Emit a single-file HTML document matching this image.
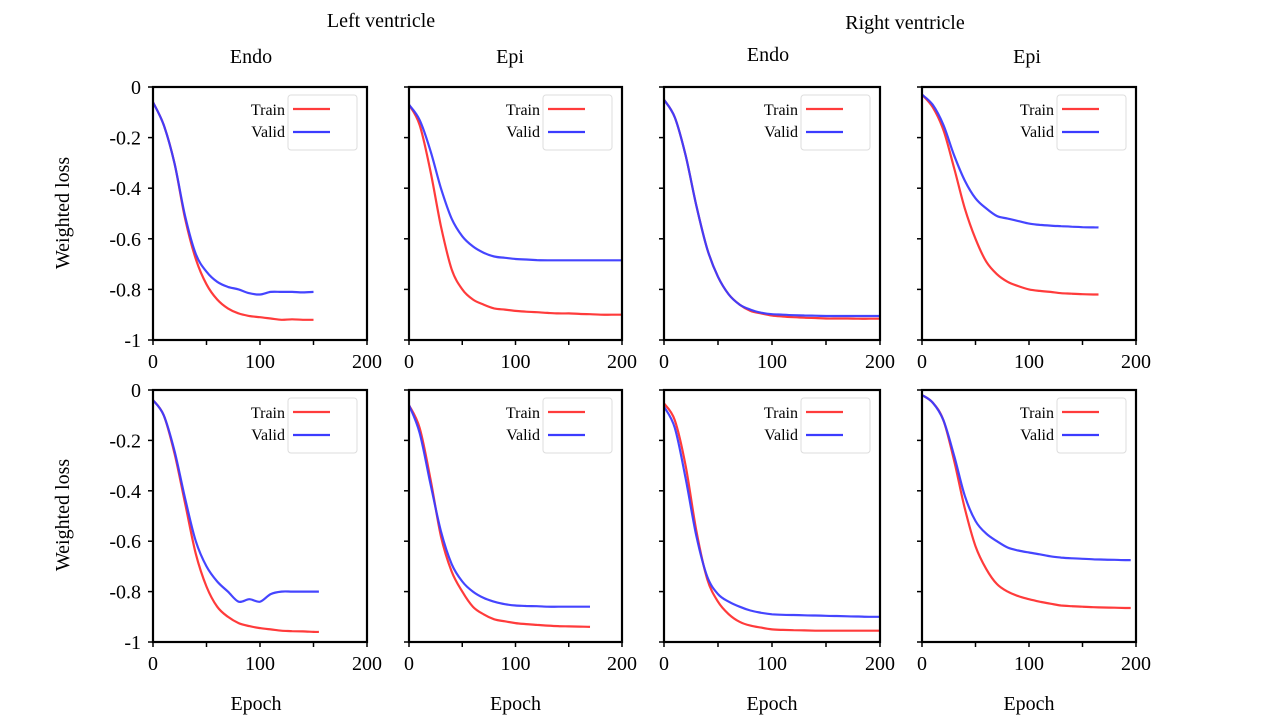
<!DOCTYPE html>
<html><head><meta charset="utf-8"><style>
body{margin:0;background:#fff;}
svg{display:block;font-family:"Liberation Serif",serif;}
</style></head><body>
<svg id="c" width="1280" height="720"></svg>
<script>
const epochs = [0,10,20,30,40,50,60,70,80,90,100,110,120,130,140,150,160,170,180,190,200];
const trainP1 = [-0.06,-0.15,-0.3,-0.52,-0.68,-0.78,-0.84,-0.875,-0.895,-0.905,-0.91,-0.915,-0.92,-0.918,-0.92,-0.92];
const validP1 = [-0.06,-0.15,-0.3,-0.51,-0.66,-0.73,-0.77,-0.79,-0.8,-0.815,-0.82,-0.81,-0.81,-0.81,-0.812,-0.81];
const trainP2 = [-0.07,-0.15,-0.33,-0.55,-0.72,-0.8,-0.84,-0.86,-0.875,-0.88,-0.885,-0.888,-0.89,-0.893,-0.895,-0.895,-0.897,-0.898,-0.9,-0.9,-0.9];
const validP2 = [-0.07,-0.13,-0.25,-0.4,-0.52,-0.59,-0.63,-0.655,-0.67,-0.675,-0.68,-0.682,-0.684,-0.685,-0.685,-0.685,-0.685,-0.685,-0.685,-0.685,-0.685];
const trainP3 = [-0.05,-0.12,-0.27,-0.47,-0.64,-0.75,-0.82,-0.86,-0.885,-0.895,-0.903,-0.907,-0.91,-0.912,-0.913,-0.915,-0.915,-0.915,-0.916,-0.916,-0.916];
const validP3 = [-0.05,-0.12,-0.27,-0.47,-0.64,-0.75,-0.82,-0.86,-0.88,-0.892,-0.898,-0.9,-0.902,-0.903,-0.904,-0.905,-0.905,-0.905,-0.905,-0.905,-0.905];
const trainP4 = [-0.03,-0.08,-0.17,-0.32,-0.48,-0.6,-0.69,-0.74,-0.77,-0.787,-0.8,-0.806,-0.81,-0.815,-0.817,-0.819,-0.82];
const validP4 = [-0.03,-0.07,-0.15,-0.27,-0.37,-0.44,-0.48,-0.51,-0.52,-0.53,-0.54,-0.545,-0.548,-0.55,-0.552,-0.554,-0.555];
const trainP5 = [-0.04,-0.1,-0.25,-0.45,-0.65,-0.78,-0.86,-0.9,-0.925,-0.937,-0.945,-0.95,-0.955,-0.957,-0.958,-0.96];
const validP5 = [-0.04,-0.1,-0.24,-0.43,-0.6,-0.7,-0.76,-0.8,-0.84,-0.83,-0.84,-0.81,-0.8,-0.8,-0.8,-0.8];
const trainP6 = [-0.06,-0.15,-0.35,-0.58,-0.72,-0.8,-0.86,-0.89,-0.91,-0.918,-0.925,-0.929,-0.932,-0.935,-0.937,-0.938,-0.939,-0.94];
const validP6 = [-0.06,-0.17,-0.37,-0.56,-0.69,-0.76,-0.8,-0.825,-0.84,-0.85,-0.855,-0.857,-0.858,-0.86,-0.86,-0.86,-0.86,-0.86];
const trainP7 = [-0.053,-0.12,-0.3,-0.56,-0.75,-0.84,-0.89,-0.92,-0.935,-0.943,-0.95,-0.952,-0.953,-0.954,-0.955,-0.955,-0.955,-0.955,-0.955,-0.955,-0.955];
const validP7 = [-0.066,-0.15,-0.35,-0.58,-0.74,-0.81,-0.84,-0.86,-0.875,-0.884,-0.89,-0.892,-0.893,-0.894,-0.895,-0.896,-0.897,-0.898,-0.899,-0.9,-0.9];
const trainP8 = [-0.02,-0.05,-0.12,-0.28,-0.47,-0.62,-0.71,-0.77,-0.8,-0.818,-0.83,-0.84,-0.848,-0.855,-0.858,-0.86,-0.862,-0.863,-0.864,-0.865];
const validP8 = [-0.02,-0.05,-0.12,-0.26,-0.42,-0.52,-0.57,-0.6,-0.625,-0.637,-0.645,-0.652,-0.66,-0.665,-0.668,-0.67,-0.672,-0.673,-0.674,-0.675];
const endEpochs = [150,200,200,165,155,170,200,195];
const yTicks = [0,-0.2,-0.4,-0.6,-0.8,-1];
const yTickLabels = ["0","-0.2","-0.4","-0.6","-0.8","-1"];
const xTicks = [0,50,100,150,200];
const xTickLabels = {0:"0",100:"100",200:"200"};

const trains=[trainP1,trainP2,trainP3,trainP4,trainP5,trainP6,trainP7,trainP8];
const valids=[validP1,validP2,validP3,validP4,validP5,validP6,validP7,validP8];
const colX=[[153,367],[409,622],[664,880],[922,1136]];
const rowY=[[87,340],[390,642]];
const svg=document.getElementById('c');
const NS='http://www.w3.org/2000/svg';
function mk(tag,attrs,parent){const e=document.createElementNS(NS,tag);for(const k in attrs)e.setAttribute(k,attrs[k]);(parent||svg).appendChild(e);return e;}
function txt(s,x,y,size,anchor,parent){const t=mk('text',{x:x,y:y,'font-size':size,'text-anchor':anchor||'middle',fill:'#000'},parent);t.textContent=s;return t;}

let t;
t=txt('Left ventricle',381,27,20);
t=txt('Right ventricle',905,29,20);
const colTitles=[['Endo',251,63],['Epi',510,63],['Endo',768,61],['Epi',1027,63]];
colTitles.forEach((c,i)=>{const e=txt(c[0],c[1],c[2],20);});

function smoothPath(pts){
  let d='M'+pts[0][0].toFixed(1)+','+pts[0][1].toFixed(1);
  for(let i=0;i<pts.length-1;i++){
    const p0=pts[Math.max(0,i-1)],p1=pts[i],p2=pts[i+1],p3=pts[Math.min(pts.length-1,i+2)];
    const c1=[p1[0]+(p2[0]-p0[0])/6,p1[1]+(p2[1]-p0[1])/6];
    const c2=[p2[0]-(p3[0]-p1[0])/6,p2[1]-(p3[1]-p1[1])/6];
    d+='C'+c1[0].toFixed(1)+','+c1[1].toFixed(1)+' '+c2[0].toFixed(1)+','+c2[1].toFixed(1)+' '+p2[0].toFixed(1)+','+p2[1].toFixed(1);
  }
  return d;
}

for(let p=0;p<8;p++){
  const r=Math.floor(p/4), c=p%4;
  const [x0,x1]=colX[c],[y0,y1]=rowY[r];
  const g=mk('g',{});
  
  
  const sx=v=>x0+(v/200)*(x1-x0);
  const sy=v=>y0+(-v)*(y1-y0);
  yTicks.forEach((v,i)=>{
    mk('line',{x1:x0-5,x2:x0,y1:sy(v),y2:sy(v),stroke:'#000','stroke-width':1.5},g);
    if(c===0){const e=txt(yTickLabels[i],x0-12,sy(v)+7,20,'end',g);}
  });
  xTicks.forEach(v=>{
    mk('line',{x1:sx(v),x2:sx(v),y1:y1,y2:y1+5,stroke:'#000','stroke-width':1.5},g);
    if(xTickLabels[v]!==undefined){const e=txt(xTickLabels[v],sx(v),y1+28,20,'middle',g);}
  });
  const n=epochs.filter(e=>e<=endEpochs[p]).length;
  function pathFor(arr){
    const pts=[];
    for(let i=0;i<arr.length&&i<n;i++)pts.push([sx(epochs[i]),sy(arr[i])]);
    if(endEpochs[p]>epochs[n-1])pts.push([sx(endEpochs[p]),sy(arr.length>n?arr[n]:arr[arr.length-1])]);
    return smoothPath(pts);
  }
  const tr=mk('path',{d:pathFor(trains[p]),fill:'none',stroke:'#ff3b3b','stroke-width':2.2,'stroke-linejoin':'round'},g);
  
  
  const va=mk('path',{d:pathFor(valids[p]),fill:'none',stroke:'#3b3bff','stroke-width':2.2,'stroke-linejoin':'round','stroke-opacity':0.95},g);
  
  
  mk('rect',{x:x0,y:y0,width:x1-x0,height:y1-y0,fill:'none',stroke:'#000','stroke-width':2.2},g);
  const lg=mk('g',{},g);
  
  
  const lx=x1-79, ly=y0+8;
  mk('rect',{x:lx,y:ly,width:69,height:55,rx:3,fill:'#fff',stroke:'#ddd','stroke-width':1},lg);
  let e=txt('Train',lx-3,ly+20,16,'end',lg);
  mk('line',{x1:lx+5,x2:lx+42,y1:ly+14,y2:ly+14,stroke:'#ff3b3b','stroke-width':2.2},lg);
  e=txt('Valid',lx-3,ly+42,16,'end',lg);
  mk('line',{x1:lx+5,x2:lx+42,y1:ly+37,y2:ly+37,stroke:'#3b3bff','stroke-width':2.2},lg);
}
[[213],[515]].forEach((v,i)=>{const e=txt('Weighted loss',0,0,20,'middle');e.setAttribute('transform','translate(69,'+v[0]+') rotate(-90)');});
colX.forEach((c,i)=>{const e=txt('Epoch',(c[0]+c[1])/2+(i===0?-4:0),710,20);});
</script>
</body></html>
